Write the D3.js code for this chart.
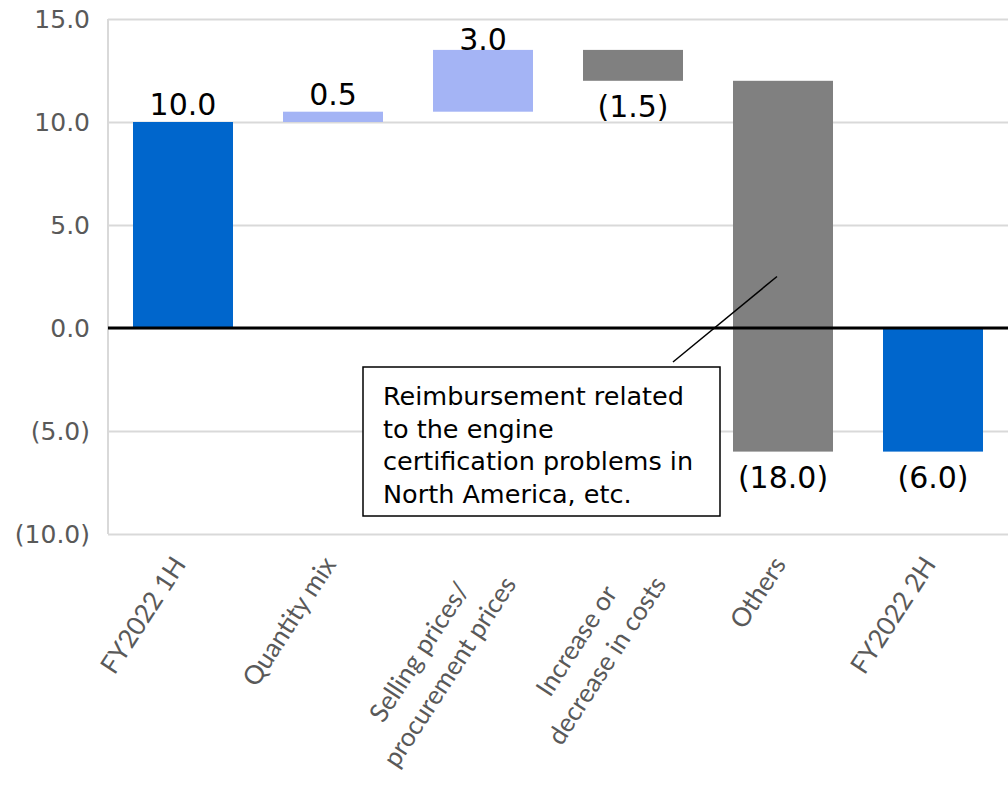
<html>
<body style="margin:0;background:#fff">
<meta charset="utf-8">
<script src="https://d3js.org/d3.v7.min.js"></script>
<div id="chart"></div>
<script>
// waterfall data
var categories = ["FY2022 1H", "Quantity mix", "Selling prices/\nprocurement prices",
                  "Increase or\ndecrease in costs", "Others", "FY2022 2H"];
var values = [10.0, 0.5, 3.0, -1.5, -18.0, -6.0];
var kinds = ["total", "delta", "delta", "delta", "delta", "total"];
var yTicks = [-10, -5, 0, 5, 10, 15];
var noteLines = ["Reimbursement related", "to the engine", "certification problems in", "North America, etc."];

var W = 1008, H = 788;
var svg = d3.select("#chart").append("svg")
    .attr("width", W).attr("height", H);

var x = d3.scaleBand()
    .domain(categories)
    .range([108, 1008])
    .paddingInner(1 / 3)
    .paddingOuter(1 / 6);

var y = d3.scaleLinear()
    .domain([-10, 15])
    .range([534, 19]);

// running total -> start/end of each bar
var running = 0;
var bars = categories.map(function(c, i) {
  var v = values[i], s, e;
  if (kinds[i] === "total") { s = 0; e = v; running = v; }
  else { s = running; e = running + v; running = e; }
  return {cat: c, value: v, kind: kinds[i], start: s, end: e};
});

function fmt(d) {
  return d < 0 ? "(" + Math.abs(d).toFixed(1) + ")" : d.toFixed(1);
}

// gridlines + y labels
var yAxis = svg.append("g")
    .attr("transform", "translate(108,0)")
    .call(d3.axisLeft(y).tickValues(yTicks).tickSize(-900).tickFormat(fmt).tickPadding(18));
yAxis.select(".domain").remove();
yAxis.selectAll(".tick line").attr("stroke", "#d9d9d9").attr("stroke-width", 2);
yAxis.selectAll(".tick text")
    .attr("fill", "#595959")
    .style("font-family", "DejaVu Sans")
    .style("font-size", "25px");

// left axis line
svg.append("line")
    .attr("x1", 108).attr("x2", 108)
    .attr("y1", y(15)).attr("y2", y(-10))
    .attr("stroke", "#d9d9d9").attr("stroke-width", 2);

function colour(d) {
  if (d.kind === "total") return "#0066cc";
  return d.value >= 0 ? "#a4b4f5" : "#808080";
}

svg.selectAll("rect.bar")
  .data(bars)
  .enter().append("rect")
    .attr("class", "bar")
    .attr("x", function(d) { return x(d.cat); })
    .attr("width", x.bandwidth())
    .attr("y", function(d) { return y(Math.max(d.start, d.end)); })
    .attr("height", function(d) { return Math.abs(y(d.start) - y(d.end)); })
    .attr("fill", colour);

// zero line
svg.append("line")
    .attr("x1", 108).attr("x2", 1008)
    .attr("y1", y(0)).attr("y2", y(0))
    .attr("stroke", "#000").attr("stroke-width", 3);

// value labels
svg.selectAll("text.val")
  .data(bars)
  .enter().append("text")
    .attr("class", "val")
    .attr("x", function(d) { return x(d.cat) + x.bandwidth() / 2; })
    .attr("y", function(d) {
      if (d.value >= 0) return Math.max(y(Math.max(d.start, d.end)) - 7, 50);
      return y(Math.min(d.start, d.end)) + 36;
    })
    .attr("text-anchor", "middle")
    .style("font-family", "DejaVu Sans")
    .style("font-size", "30px")
    .attr("fill", "#000")
    .text(function(d) { return fmt(d.value); });

// rotated category labels
var lh = 36, asc = 19;
categories.forEach(function(c) {
  var cx = x(c) + x.bandwidth() / 2;
  var g = svg.append("g")
      .attr("transform", "translate(" + (cx - 12) + ",554) rotate(-57)");
  var t = g.append("text")
      .attr("text-anchor", "middle")
      .attr("fill", "#595959")
      .style("font-family", "Lato")
      .style("font-size", "26px");
  var maxLen = 0;
  c.split("\n").forEach(function(line, i) {
    var ts = t.append("tspan").attr("x", 0).attr("y", asc + i * lh).text(line);
    maxLen = Math.max(maxLen, ts.node().getComputedTextLength());
  });
  t.attr("transform", "translate(" + (-maxLen / 2) + ",0)");
});

// callout
var ax = x("Others") + x.bandwidth() / 2 - 6;
svg.append("line")
    .attr("x1", ax).attr("y1", y(2.5))
    .attr("x2", 673).attr("y2", 362)
    .attr("stroke", "#000").attr("stroke-width", 1.5);
svg.append("rect")
    .attr("x", 363).attr("y", 367)
    .attr("width", 357).attr("height", 149)
    .attr("fill", "#fff").attr("stroke", "#000").attr("stroke-width", 1.5);
svg.append("text")
    .style("font-family", "DejaVu Sans")
    .style("font-size", "25.5px")
    .attr("fill", "#000")
  .selectAll("tspan")
  .data(noteLines)
  .enter().append("tspan")
    .attr("x", 383)
    .attr("y", function(d, i) { return 405 + i * 32.5; })
    .text(function(d) { return d; });
</script>
</body>
</html>
